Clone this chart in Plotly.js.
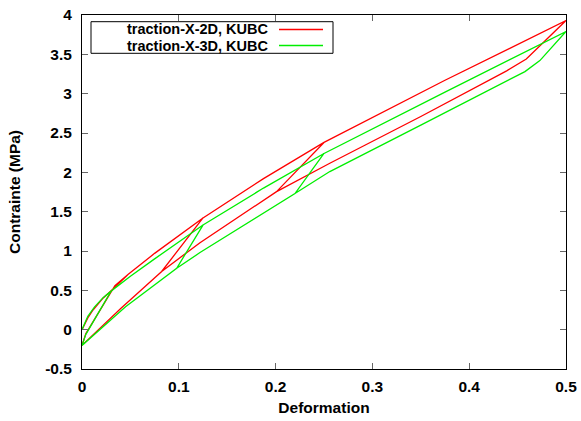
<!DOCTYPE html>
<html>
<head>
<meta charset="utf-8">
<script src="https://cdn.plot.ly/plotly-3.0.1.min.js"></script>
<style>html,body{margin:0;padding:0;background:#fff;}#plot{width:581px;height:421px;}</style>
</head>
<body>
<div id="plot"></div>
<script>
// Series 1: traction-X-2D, KUBC (red) -- load/unload cycles to 0.125, 0.25, 0.5
const redStrain = [
  0, 0.006, 0.0114, 0.0217, 0.034, 0.0475, 0.075, 0.1, 0.125,
  0.0823, 0.04, 0,
  0.004, 0.034, 0.0475, 0.075, 0.1, 0.125, 0.1875, 0.25,
  0.201, 0.1219, 0.0823, 0.04, 0,
  0.004, 0.034, 0.0475, 0.075, 0.1, 0.125, 0.1875, 0.25, 0.375, 0.5,
  0.459, 0.4387, 0.35, 0.256, 0.201, 0.1219, 0.0823, 0.04, 0
];
const redStress = [
  0, 0.15, 0.25, 0.40, 0.54, 0.70, 0.97, 1.19, 1.42,
  0.74, 0.27, -0.2,
  -0.05, 0.56, 0.70, 0.97, 1.19, 1.42, 1.92, 2.38,
  1.755, 1.106, 0.74, 0.27, -0.2,
  -0.05, 0.56, 0.70, 0.97, 1.19, 1.42, 1.92, 2.38, 3.17, 3.93,
  3.44, 3.29, 2.71, 2.115, 1.755, 1.106, 0.74, 0.27, -0.2
];
// Series 2: traction-X-3D, KUBC (green)
const greenStrain = [
  0, 0.006, 0.013, 0.022, 0.034, 0.05, 0.075, 0.1, 0.125,
  0.0978, 0.045, 0,
  0.004, 0.03, 0.05, 0.075, 0.1, 0.125, 0.1875, 0.25,
  0.22, 0.1219, 0.0978, 0.045, 0,
  0.004, 0.03, 0.05, 0.075, 0.1, 0.125, 0.1875, 0.25, 0.375, 0.5,
  0.473, 0.4576, 0.35, 0.256, 0.22, 0.1219, 0.0978, 0.045, 0
];
const greenStress = [
  0, 0.17, 0.29, 0.41, 0.53, 0.68, 0.90, 1.11, 1.33,
  0.78, 0.29, -0.2,
  -0.06, 0.49, 0.68, 0.90, 1.11, 1.33, 1.80, 2.24,
  1.73, 0.98, 0.78, 0.29, -0.2,
  -0.06, 0.49, 0.68, 0.90, 1.11, 1.33, 1.80, 2.24, 3.02, 3.79,
  3.42, 3.28, 2.60, 2.01, 1.73, 0.98, 0.78, 0.29, -0.2
];
const seriesNames = ["traction-X-2D, KUBC", "traction-X-3D, KUBC"];
const xTickVals = [0, 0.1, 0.2, 0.3, 0.4, 0.5];
const xTickText = ["0", "0.1", "0.2", "0.3", "0.4", "0.5"];
const yTickVals = [-0.5, 0, 0.5, 1, 1.5, 2, 2.5, 3, 3.5, 4];
const yTickText = ["-0.5", "0", "0.5", "1", "1.5", "2", "2.5", "3", "3.5", "4"];

const RED = "#ff0000", GREEN = "#00ee00";
const fontFam = "Liberation Sans, Arial, sans-serif";
const FS = 15.5;
const LFS = 14.5;

const traces = [
  {x: redStrain, y: redStress, mode: "lines", line: {color: RED, width: 1.3}, name: seriesNames[0], showlegend: false},
  {x: greenStrain, y: greenStress, mode: "lines", line: {color: GREEN, width: 1.3}, name: seriesNames[1], showlegend: false}
];

// plot area: x 82..566, y 15..369
const W = 484, H = 354;
const px = v => (v - 82) / W;
const py = v => (369 - v) / H;

const axisCommon = {
  showline: true, linecolor: "#000", linewidth: 1, mirror: "allticks",
  ticks: "inside", ticklen: 6, tickcolor: "#666", tickwidth: 1,
  showgrid: false, zeroline: false, tickmode: "array",
  tickfont: {family: fontFam, size: FS, color: "#000", weight: "bold"}
};

const layout = {
  width: 581, height: 421,
  margin: {l: 82, r: 15, t: 15, b: 52},
  paper_bgcolor: "#fff", plot_bgcolor: "#fff",
  showlegend: false,
  xaxis: Object.assign({}, axisCommon, {
    range: [0, 0.5], tickvals: xTickVals, ticktext: xTickText, ticklabelstandoff: 3,
    title: {text: "Deformation", font: {family: fontFam, size: FS, color: "#000", weight: "bold"}, standoff: 8}
  }),
  yaxis: Object.assign({}, axisCommon, {
    range: [-0.5, 4], tickvals: yTickVals, ticktext: yTickText, ticklabelstandoff: 6,
    title: {text: "Contrainte (MPa)", font: {family: fontFam, size: FS, color: "#000", weight: "bold"}, standoff: 20}
  }),
  shapes: [
    {type: "rect", xref: "paper", yref: "paper", x0: px(91), x1: px(333), y0: py(53.3), y1: py(21.7),
     line: {color: "#000", width: 1}, fillcolor: "#fff", layer: "above"},
    {type: "line", xref: "paper", yref: "paper", x0: px(279), x1: px(323), y0: py(29.5), y1: py(29.5),
     line: {color: RED, width: 1.3}, layer: "above"},
    {type: "line", xref: "paper", yref: "paper", x0: px(279), x1: px(323), y0: py(45.5), y1: py(45.5),
     line: {color: GREEN, width: 1.3}, layer: "above"}
  ],
  annotations: [
    {xref: "paper", yref: "paper", x: px(270), y: py(28.5), xanchor: "right", yanchor: "middle", showarrow: false,
     borderpad: 0, text: seriesNames[0], font: {family: fontFam, size: LFS, color: "#000", weight: "bold"}},
    {xref: "paper", yref: "paper", x: px(270), y: py(46.2), xanchor: "right", yanchor: "middle", showarrow: false,
     borderpad: 0, text: seriesNames[1], font: {family: fontFam, size: LFS, color: "#000", weight: "bold"}}
  ]
};

Plotly.newPlot("plot", traces, layout, {staticPlot: true, displayModeBar: false});
</script>
</body>
</html>
